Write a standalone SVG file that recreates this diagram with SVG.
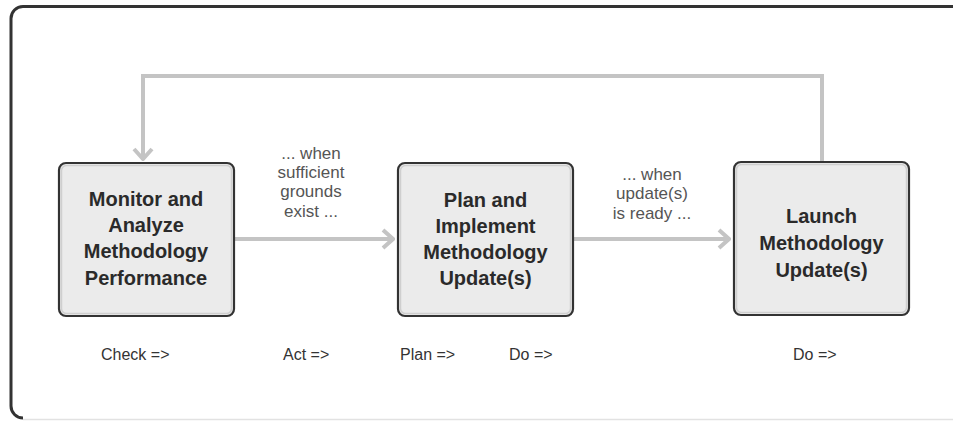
<svg xmlns="http://www.w3.org/2000/svg" width="953" height="421" viewBox="0 0 953 421">
  <defs>
    <style>
      .frame { fill: none; stroke: #333; stroke-width: 3; }
      .box { fill: #ebebeb; stroke: #333; stroke-width: 2.2; }
      .inner { fill: none; stroke: #cfcfcf; stroke-width: 1.5; }
      .title { font-family: "Liberation Sans", Arial, sans-serif; font-weight: bold; font-size: 20px; fill: #2a2a2a; text-anchor: middle; }
      .cond { font-family: "Liberation Sans", Arial, sans-serif; font-size: 17px; fill: #555; text-anchor: middle; }
      .phase { font-family: "Liberation Sans", Arial, sans-serif; font-size: 16px; fill: #333; }
      .conn { fill: none; stroke: #c4c4c4; stroke-width: 4; }
    </style>
    <marker id="chev" markerUnits="userSpaceOnUse" viewBox="-14 -12 16 24" refX="0" refY="0" markerWidth="16" markerHeight="24" orient="auto">
      <path d="M -10 -9 L 0 0 L -10 9" fill="none" stroke="#c4c4c4" stroke-width="4" stroke-linejoin="miter"/>
    </marker>
  </defs>
  <rect width="953" height="421" fill="#fff"/>
  <g id="frame">
    <path class="frame" d="M 953 6.5 H 23 A 12 12 0 0 0 11 18.5 V 406 A 12 12 0 0 0 23 418"/>
    <line x1="23" y1="419.5" x2="953" y2="419.5" stroke="#e2e2e2" stroke-width="1.5"/>
  </g>
  <g id="connectors">
    <path class="conn" d="M 822 162 V 76 H 143 V 159" marker-end="url(#chev)"/>
    <path class="conn" d="M 235 239 H 393" marker-end="url(#chev)"/>
    <path class="conn" d="M 574 239 H 729" marker-end="url(#chev)"/>
  </g>
  <g id="node-monitor">
    <rect class="box" x="59" y="163" width="175" height="153" rx="7"/>
    <rect class="inner" x="61.5" y="165.5" width="170" height="148" rx="5"/>
    <text class="title" x="146" y="206">Monitor and</text>
    <text class="title" x="146" y="232">Analyze</text>
    <text class="title" x="146" y="258">Methodology</text>
    <text class="title" x="146" y="285">Performance</text>
  </g>
  <g id="node-plan">
    <rect class="box" x="398" y="163" width="175" height="153" rx="7"/>
    <rect class="inner" x="400.5" y="165.5" width="170" height="148" rx="5"/>
    <text class="title" x="485.5" y="207">Plan and</text>
    <text class="title" x="485.5" y="233">Implement</text>
    <text class="title" x="485.5" y="259">Methodology</text>
    <text class="title" x="485.5" y="285">Update(s)</text>
  </g>
  <g id="node-launch">
    <rect class="box" x="734" y="162" width="175" height="153" rx="7"/>
    <rect class="inner" x="736.5" y="164.5" width="170" height="148" rx="5"/>
    <text class="title" x="821.5" y="223">Launch</text>
    <text class="title" x="821.5" y="250">Methodology</text>
    <text class="title" x="821.5" y="277">Update(s)</text>
  </g>
  <g id="label-sufficient">
    <text class="cond" x="311" y="159">... when</text>
    <text class="cond" x="311" y="178">sufficient</text>
    <text class="cond" x="311" y="197">grounds</text>
    <text class="cond" x="311" y="217">exist ...</text>
  </g>
  <g id="label-ready">
    <text class="cond" x="652" y="180">... when</text>
    <text class="cond" x="652" y="199">update(s)</text>
    <text class="cond" x="652" y="219">is ready ...</text>
  </g>
  <g id="phases">
    <text class="phase" x="101" y="360">Check =&gt;</text>
    <text class="phase" x="283" y="360">Act =&gt;</text>
    <text class="phase" x="400" y="360">Plan =&gt;</text>
    <text class="phase" x="509" y="360">Do =&gt;</text>
    <text class="phase" x="793" y="360">Do =&gt;</text>
  </g>
</svg>
